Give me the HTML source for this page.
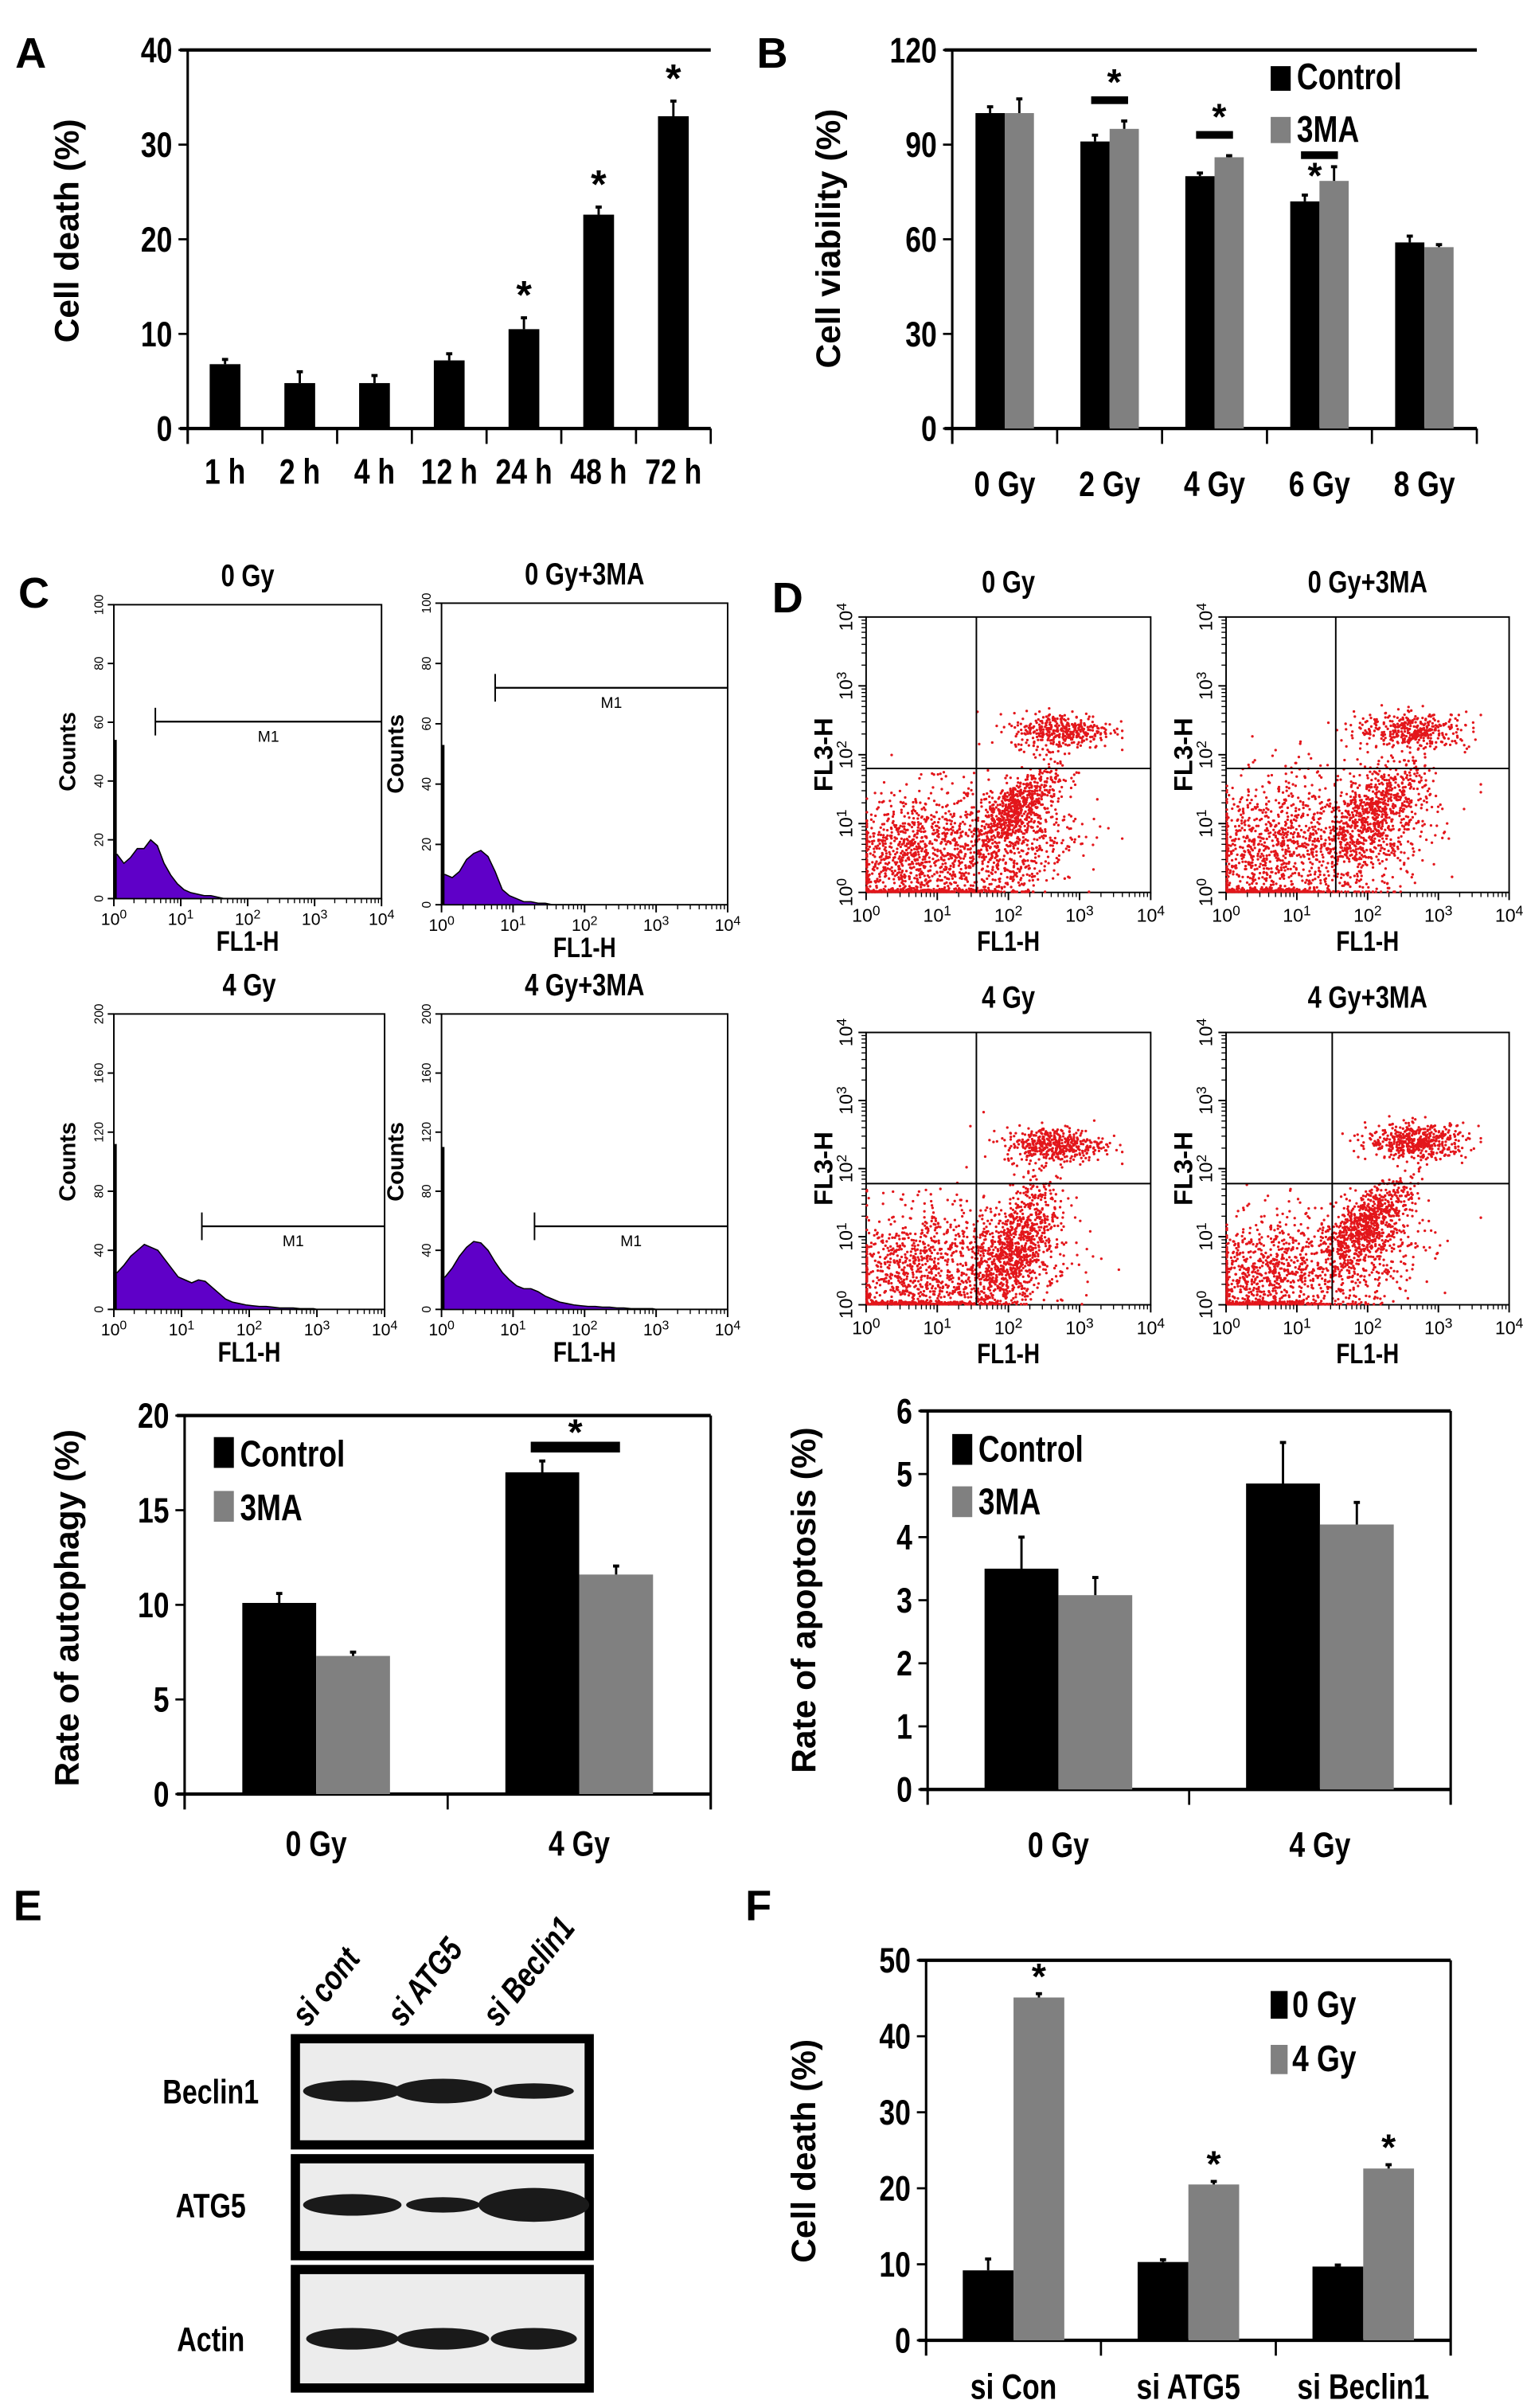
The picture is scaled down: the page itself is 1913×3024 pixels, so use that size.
<!DOCTYPE html>
<html><head><meta charset="utf-8">
<style>
html,body{margin:0;padding:0;background:#fff;}
svg{display:block;}
text{font-family:"Liberation Sans",sans-serif;font-weight:bold;fill:#000;}
</style></head>
<body>
<svg id="fig" xmlns="http://www.w3.org/2000/svg" width="1913" height="3024" viewBox="0 0 990 1565"></svg>
<script>
// ---- Panel A data ----
const A_categories=["1 h","2 h","4 h","12 h","24 h","48 h","72 h"];
const A_values=[6.8,4.8,4.8,7.2,10.5,22.6,33];
const A_errors=[0.5,1.2,0.8,0.7,1.2,0.8,1.6];
const A_stars=[false,false,false,false,true,true,true];
const A_ticks=[0,10,20,30,40];
// ---- Panel B data ----
const B_categories=["0 Gy","2 Gy","4 Gy","6 Gy","8 Gy"];
const B_control=[100,91,80,72,59];
const B_3ma=[100,95,86,78.5,57.5];
const B_controlErr=[2,2,1,2,2];
const B_3maErr=[4.5,2.5,0.5,4.5,0.8];
const B_ticks=[0,30,60,90,120];
// ---- Panel C bar data ----
const CB_categories=["0 Gy","4 Gy"];
const CB_control=[10.1,17];
const CB_3ma=[7.3,11.6];
const CB_controlErr=[0.5,0.6];
const CB_3maErr=[0.2,0.45];
const CB_ticks=[0,5,10,15,20];
// ---- Panel D bar data ----
const DB_categories=["0 Gy","4 Gy"];
const DB_control=[3.5,4.85];
const DB_3ma=[3.08,4.2];
const DB_controlErr=[0.5,0.65];
const DB_3maErr=[0.28,0.35];
const DB_ticks=[0,1,2,3,4,5,6];
// ---- Panel F data ----
const F_categories=["si Con","si ATG5","si Beclin1"];
const F_0gy=[9.2,10.3,9.7];
const F_4gy=[45.1,20.5,22.6];
const F_0gyErr=[1.5,0.3,0.2];
const F_4gyErr=[0.5,0.4,0.5];
const F_ticks=[0,10,20,30,40,50];
// ---- Histograms (counts per 0.1 decade) ----
const H1=[15,12,14,17,17,20,18,12,8,5,3,2,1.5,1,1,0.5,0,0,0,0];
const H2=[10,9,11,15,17,18,16,11,5,3,2,1,1,0.5,0.5,0,0,0,0,0];
const H3=[25,30,36,40,44,42,40,34,28,22,20,18,20,19,15,11,7,5,4,3,2.5,2,2,1.5,1,1,1,0.5,0.5,0.5];
const H4=[22,28,36,42,46,45,40,32,25,20,16,14,14,12,9,7,5,4,3,2.5,2,2,1.5,1.5,1,1,0.5,0.5,0.5,0.5];
const H_spike=[54,53,112,110];
// ---- Scatter clusters [cx,cy,sx,sy,n,rho] in decades ----
const S1=[[0.6,0.5,0.55,0.5,1000,0.3],[2.1,1.2,0.3,0.3,600,0.7],[2.75,2.35,0.35,0.13,380,0],[2.0,0.6,0.5,0.45,550,0.4],[0.8,0.02,0.6,0.02,200,0]];
const S2=[[0.6,0.6,0.55,0.55,950,0.3],[2.1,1.2,0.35,0.35,550,0.6],[2.65,2.35,0.4,0.13,380,0],[2.0,0.7,0.5,0.5,500,0.4],[0.6,0.02,0.4,0.02,180,0]];
const S3=[[0.6,0.5,0.55,0.5,850,0.3],[2.1,0.9,0.3,0.45,750,0.6],[2.65,2.35,0.35,0.13,450,0],[1.9,0.5,0.5,0.4,450,0.3],[0.6,0.02,0.5,0.02,200,0]];
const S4=[[0.5,0.4,0.5,0.45,800,0.3],[2.0,1.2,0.3,0.3,700,0.7],[2.7,2.4,0.35,0.13,500,0],[1.9,0.6,0.5,0.45,450,0.4],[0.5,0.02,0.4,0.02,200,0]];

const NS="http://www.w3.org/2000/svg";
const svg=document.getElementById('fig');
const NARROW=0.8;
function mk(tag,attrs,name,parent){
  const el=document.createElementNS(NS,tag);
  for(const k in attrs) el.setAttribute(k,attrs[k]);
  
  
  (parent||svg).appendChild(el);
  return el;
}
function txt(x,y,s,size,name,extra){
  extra=Object.assign({},extra||{});
  const wide=extra['class']==='w';
  delete extra['class'];
  let a;
  if(wide){
    a=Object.assign({x:x,y:y,'font-size':size,'text-anchor':'middle'},extra);
  } else {
    const tr=(extra.transform||'')+' scale('+NARROW+',1)';
    delete extra.transform;
    a=Object.assign({x:x/NARROW,y:y,'font-size':size,'text-anchor':'middle',transform:tr},extra);
  }
  const t=mk('text',a,name);
  t.textContent=s;
  return t;
}
function line(x1,y1,x2,y2,w,name,col){
  return mk('line',{x1:x1,y1:y1,x2:x2,y2:y2,stroke:col||'#000','stroke-width':w},name);
}

function barChart(o){
  const n=o.categories.length, gw=(o.x1-o.x0)/n;
  const ys=v=>o.yb-(v/o.max)*(o.yb-o.yt);
  const xc=i=>o.x0+(i+0.5)*gw;
  line(o.x0,o.yt,o.x0,o.yb+10,1.6,o.id+'-y-axis');
  line(o.x0-5,o.yb,o.x1,o.yb,2.2,o.id+'-x-axis');
  line(o.x0-5,o.yt,o.x1,o.yt,2.2,o.id+'-top-border');
  if(o.right) line(o.x1,o.yt,o.x1,o.yb+10,1.6,o.id+'-right-border');
  for(let i=1;i<=n-1+(o.right?0:1);i++) line(o.x0+i*gw,o.yb,o.x0+i*gw,o.yb+10,1.4,o.id+'-x-tick');
  o.ticks.forEach(v=>{
    line(o.x0-6,ys(v),o.x0,ys(v),1.4,o.id+'-y-tick');
    txt(o.x0-10,ys(v)+8,String(v),o.tickSize||23,o.id+'-y-tick-label',{'text-anchor':'end'});
  });
  o.categories.forEach((c,i)=>txt(xc(i),o.yb+o.catDy,c,o.catSize||23,o.id+'-category-label'));
  o.series.forEach((s,si)=>{
    s.values.forEach((v,i)=>{
      const bx=xc(i)+s.off-o.bw/2;
      mk('rect',{x:bx,y:ys(v),width:o.bw,height:o.yb-ys(v),fill:s.color},o.id+'-bar-'+s.key+'-'+i);
      const e=s.err[i], cx=xc(i)+s.off;
      line(cx,ys(v),cx,ys(v+e),1.5,o.id+'-error-bar');
      line(cx-2,ys(v+e),cx+2,ys(v+e),2,o.id+'-error-cap');
    });
  });
  return {ys:ys,xc:xc};
}

// ---------- Panel A ----------
txt(20,44,"A",28,'panel-a-label',{'class':'w'});
const A=barChart({id:'a',x0:122,x1:462,yt:32.5,yb:278.5,max:40,ticks:A_ticks,categories:A_categories,catDy:36,bw:20,
  series:[{key:'cell-death',values:A_values,err:A_errors,color:'#000',off:0}]});
A_values.forEach((v,i)=>{ if(A_stars[i]) txt(A.xc(i),A.ys(v+A_errors[i])-6,"*",26,'a-significance-star',{'class':'w'}); });
txt(0,0,"Cell death  (%)",22,'a-y-axis-title',{'class':'w',transform:'translate(51,150) rotate(-90)'});

// ---------- Panel B ----------
txt(502,44,"B",28,'panel-b-label',{'class':'w'});
const B=barChart({id:'b',x0:619,x1:960,yt:32.5,yb:278.5,max:120,ticks:B_ticks,categories:B_categories,catDy:44,bw:19,
  series:[{key:'control',values:B_control,err:B_controlErr,color:'#000',off:-9.5},{key:'3ma',values:B_3ma,err:B_3maErr,color:'#808080',off:9.5}]});
[1,2,3].forEach(i=>{
  const top=Math.max(B_control[i]+B_controlErr[i],B_3ma[i]+B_3maErr[i]);
  const yl= i===3? B.ys(top)-8 : B.ys(top)-14;
  mk('rect',{x:B.xc(i)-12,y:yl-2,width:24,height:5,fill:'#000'},'b-significance-bar');
  txt(B.xc(i)+ (i===3?-3:3),i===3?yl+22:yl-3,"*",24,'b-significance-star',{'class':'w'});
});
mk('rect',{x:826,y:43,width:13,height:16,fill:'#000'},'b-legend-control-swatch');
txt(843,58,"Control",24,'b-legend-control-label',{'text-anchor':'start'});
mk('rect',{x:826,y:76,width:13,height:17,fill:'#808080'},'b-legend-3ma-swatch');
txt(843,92,"3MA",24,'b-legend-3ma-label',{'text-anchor':'start'});
txt(0,0,"Cell viability  (%)",22,'b-y-axis-title',{'class':'w',transform:'translate(546,155) rotate(-90)'});

// ---------- Panel C histograms ----------
txt(22,395,"C",28,'panel-c-label',{'class':'w'});
function sup(x,y,e,size,name){
  const t=mk('text',{x:x,y:y,'font-size':size,'text-anchor':'middle'},name);
  t.style.fontWeight='normal';
  t.appendChild(document.createTextNode('10'));
  const s=document.createElementNS(NS,'tspan'); s.setAttribute('dy',-4); s.setAttribute('font-size',size*0.75); s.textContent=e; t.appendChild(s);
}
function hist(o){
  const X=d=>o.x0+d/4*(o.x1-o.x0), Y=c=>o.yb-c/o.max*(o.yb-o.yt);
  mk('rect',{x:o.x0,y:o.yt,width:o.x1-o.x0,height:o.yb-o.yt,fill:'none',stroke:'#000','stroke-width':1},o.id+'-plot-frame');
  let d='M'+X(0)+','+o.yb+' L'+X(0)+','+Y(o.data[0]);
  o.data.forEach((c,i)=>{ d+=' L'+X(i*0.1+0.05)+','+Y(c); });
  d+=' L'+X(o.data.length*0.1)+','+o.yb+' Z';
  mk('path',{d:d,fill:'#5f00c8',stroke:'#000','stroke-width':0.8},o.id+'-histogram');
  line(X(0.02),o.yb,X(0.02),Y(o.spike),2,o.id+'-histogram-spike');
  for(let k=0;k<=5;k++){ const v=o.max*k/5; line(o.x0-4,Y(v),o.x0,Y(v),1,o.id+'-y-tick');
    const t=mk('text',{x:0,y:0,'font-size':8,'text-anchor':'middle',transform:'translate('+(o.x0-7)+','+Y(v)+') rotate(-90)'},o.id+'-y-tick-label'); t.style.fontWeight='normal'; t.textContent=String(v); }
  for(let k=0;k<=4;k++){ line(X(k),o.yb,X(k),o.yb+5,1,o.id+'-x-tick'); sup(X(k),o.yb+17,String(k),11,o.id+'-x-tick-label');
    if(k<4) for(let m=2;m<10;m++) line(X(k+Math.log10(m)),o.yb,X(k+Math.log10(m)),o.yb+3,0.7,o.id+'-x-minor-tick'); }
  line(X(o.m1),o.mY-9,X(o.m1),o.mY+9,1,o.id+'-m1-marker-end');
  line(X(o.m1),o.mY,o.x1,o.mY,1.2,o.id+'-m1-marker');
  const m=mk('text',{x:(X(o.m1)+o.x1)/2,y:o.mY+13,'font-size':10,'text-anchor':'middle'},o.id+'-m1-label'); m.style.fontWeight='normal'; m.textContent='M1';
  txt((o.x0+o.x1)/2,o.yt-12,o.title,20,o.id+'-title');
  txt((o.x0+o.x1)/2,o.yb+34,"FL1-H",18,o.id+'-x-axis-title');
  txt(0,0,"Counts",15,o.id+'-y-axis-title',{'class':'w',transform:'translate('+(o.x0-25)+','+((o.yt+o.yb)/2)+') rotate(-90)'});
}
hist({id:'c1',x0:74,x1:248,yt:393,yb:584,max:100,data:H1,spike:H_spike[0],m1:0.62,mY:469,title:"0 Gy"});
hist({id:'c2',x0:287,x1:473,yt:392,yb:588,max:100,data:H2,spike:H_spike[1],m1:0.75,mY:447,title:"0 Gy+3MA"});
hist({id:'c3',x0:74,x1:250,yt:659,yb:851,max:200,data:H3,spike:H_spike[2],m1:1.3,mY:797,title:"4 Gy"});
hist({id:'c4',x0:287,x1:473,yt:659,yb:851,max:200,data:H4,spike:H_spike[3],m1:1.3,mY:797,title:"4 Gy+3MA"});

// ---------- Panel D scatter ----------
txt(512,398,"D",28,'panel-d-label',{'class':'w'});
let seed=12345;
function rnd(){ seed=(seed*1103515245+12345)%2147483648; return seed/2147483648; }
function gauss(){ let u=rnd()||1e-9, v=rnd(); return Math.sqrt(-2*Math.log(u))*Math.cos(2*Math.PI*v); }
function scatter(o){
  const X=d=>o.x0+d/4*(o.x1-o.x0), Y=d=>o.yb-d/4*(o.yb-o.yt);
  mk('rect',{x:o.x0,y:o.yt,width:o.x1-o.x0,height:o.yb-o.yt,fill:'none',stroke:'#000','stroke-width':1},o.id+'-plot-frame');
  const g=mk('g',{fill:'#e3161b'},o.id+'-dots');
  o.clusters.forEach(c=>{
    for(let i=0;i<c[4];i++){
      const a=gauss(), b=gauss();
      let x=c[0]+c[2]*a, y=c[1]+c[3]*(c[5]*a+Math.sqrt(1-c[5]*c[5])*b);
      x=Math.max(0.01,Math.min(3.6,x)); y=Math.max(0.01,Math.min(3.3,y));
      const p=document.createElementNS(NS,'circle');
      p.setAttribute('cx',X(x).toFixed(1)); p.setAttribute('cy',Y(y).toFixed(1)); p.setAttribute('r',0.85);
      g.appendChild(p);
    }
  });
  line(X(o.qx),o.yt,X(o.qx),o.yb,1,o.id+'-quadrant-vertical');
  line(o.x0,Y(o.qy),o.x1,Y(o.qy),1,o.id+'-quadrant-horizontal');
  for(let k=0;k<=4;k++){
    line(X(k),o.yb,X(k),o.yb+5,1,o.id+'-x-tick'); sup(X(k),o.yb+19,String(k),12,o.id+'-x-tick-label');
    line(o.x0-5,Y(k),o.x0,Y(k),1,o.id+'-y-tick');
    const t=mk('text',{x:0,y:0,'font-size':12,'text-anchor':'middle',transform:'translate('+(o.x0-9)+','+Y(k)+') rotate(-90)'},o.id+'-y-tick-label');
    t.style.fontWeight='normal';
    t.appendChild(document.createTextNode('10')); const s=document.createElementNS(NS,'tspan'); s.setAttribute('dy',-4); s.setAttribute('font-size',9); s.textContent=String(k); t.appendChild(s);
    if(k<4) for(let m=2;m<10;m++){ line(X(k+Math.log10(m)),o.yb,X(k+Math.log10(m)),o.yb+3,0.7,o.id+'-x-minor-tick'); line(o.x0-3,Y(k+Math.log10(m)),o.x0,Y(k+Math.log10(m)),0.7,o.id+'-y-minor-tick'); }
  }
  txt((o.x0+o.x1)/2,o.yt-16,o.title,20,o.id+'-title');
  txt((o.x0+o.x1)/2,o.yb+38,"FL1-H",18,o.id+'-x-axis-title');
  txt(0,0,"FL3-H",17,o.id+'-y-axis-title',{'class':'w',transform:'translate('+(o.x0-22)+','+((o.yt+o.yb)/2)+') rotate(-90)'});
}
scatter({id:'d1',x0:563,x1:748,yt:401,yb:580,qx:1.55,qy:1.8,clusters:S1,title:"0 Gy"});
scatter({id:'d2',x0:797,x1:981,yt:401,yb:580,qx:1.55,qy:1.8,clusters:S2,title:"0 Gy+3MA"});
scatter({id:'d3',x0:563,x1:748,yt:671,yb:848,qx:1.55,qy:1.78,clusters:S3,title:"4 Gy"});
scatter({id:'d4',x0:797,x1:981,yt:671,yb:848,qx:1.5,qy:1.78,clusters:S4,title:"4 Gy+3MA"});

// ---------- Panel C bar chart ----------
const CB=barChart({id:'c-bar',x0:120,x1:462,yt:920,yb:1166,max:20,ticks:CB_ticks,categories:CB_categories,catDy:40,bw:48,right:true,
  series:[{key:'control',values:CB_control,err:CB_controlErr,color:'#000',off:-24},{key:'3ma',values:CB_3ma,err:CB_3maErr,color:'#808080',off:24}]});
mk('rect',{x:345,y:937,width:58,height:7,fill:'#000'},'c-bar-significance-bar');
txt(374,939,"*",24,'c-bar-significance-star',{'class':'w'});
mk('rect',{x:139,y:934,width:13,height:20,fill:'#000'},'c-bar-legend-control-swatch');
txt(156,953,"Control",24,'c-bar-legend-control-label',{'text-anchor':'start'});
mk('rect',{x:139,y:969,width:13,height:20,fill:'#808080'},'c-bar-legend-3ma-swatch');
txt(156,988,"3MA",24,'c-bar-legend-3ma-label',{'text-anchor':'start'});
txt(0,0,"Rate of autophagy (%)",22,'c-bar-y-axis-title',{'class':'w',transform:'translate(51,1045) rotate(-90)'});

// ---------- Panel D bar chart ----------
const DB=barChart({id:'d-bar',x0:603,x1:943,yt:917,yb:1163,max:6,ticks:DB_ticks,categories:DB_categories,catDy:44,bw:48,right:true,
  series:[{key:'control',values:DB_control,err:DB_controlErr,color:'#000',off:-24},{key:'3ma',values:DB_3ma,err:DB_3maErr,color:'#808080',off:24}]});
mk('rect',{x:619,y:932,width:13,height:20,fill:'#000'},'d-bar-legend-control-swatch');
txt(636,950,"Control",24,'d-bar-legend-control-label',{'text-anchor':'start'});
mk('rect',{x:619,y:966,width:13,height:20,fill:'#808080'},'d-bar-legend-3ma-swatch');
txt(636,984,"3MA",24,'d-bar-legend-3ma-label',{'text-anchor':'start'});
txt(0,0,"Rate of apoptosis (%)",22,'d-bar-y-axis-title',{'class':'w',transform:'translate(530,1040) rotate(-90)'});

// ---------- Panel E blot ----------
txt(18,1248,"E",28,'panel-e-label',{'class':'w'});
const lanes=["si cont","si ATG5","si Beclin1"];
lanes.forEach((l,i)=>txt(0,0,l,22,'e-lane-label',{'text-anchor':'start','font-style':'italic',transform:'translate('+(200+i*62)+',1318) rotate(-52)'}));
const blots=[["Beclin1",1325,1394,1359,[[229,32,7],[288,32,8],[347,26,5]]],["ATG5",1403,1466,1433,[[229,32,7],[288,24,5],[347,36,11]]],["Actin",1475,1552,1520,[[229,30,7],[288,30,7],[347,28,7]]]];
blots.forEach(b=>{
  const nm=b[0].toLowerCase();
  mk('rect',{x:192,y:b[1],width:191,height:b[2]-b[1],fill:'#ececec',stroke:'#000','stroke-width':6},'e-'+nm+'-blot-box');
  txt(137,b[3]+8,b[0],22,'e-'+nm+'-label');
  b[4].forEach(bd=>mk('ellipse',{cx:bd[0],cy:b[3],rx:bd[1],ry:bd[2],fill:'#1a1a1a'},'e-'+nm+'-band'));
});

// ---------- Panel F ----------
txt(493,1248,"F",28,'panel-f-label',{'class':'w'});
const F=barChart({id:'f',x0:602,x1:943,yt:1274,yb:1521,max:50,ticks:F_ticks,categories:F_categories,catDy:38,bw:33,right:true,
  series:[{key:'0gy',values:F_0gy,err:F_0gyErr,color:'#000',off:-16.5},{key:'4gy',values:F_4gy,err:F_4gyErr,color:'#808080',off:16.5}]});
F_4gy.forEach((v,i)=>txt(F.xc(i)+16.5,F.ys(v+F_4gyErr[i])-3,"*",24,'f-significance-star',{'class':'w'}));
mk('rect',{x:826,y:1294,width:11,height:18,fill:'#000'},'f-legend-0gy-swatch');
txt(840,1311,"0 Gy",24,'f-legend-0gy-label',{'text-anchor':'start'});
mk('rect',{x:826,y:1329,width:11,height:19,fill:'#808080'},'f-legend-4gy-swatch');
txt(840,1346,"4 Gy",24,'f-legend-4gy-label',{'text-anchor':'start'});
txt(0,0,"Cell death (%)",22,'f-y-axis-title',{'class':'w',transform:'translate(530,1398) rotate(-90)'});
</script>
</body></html>
